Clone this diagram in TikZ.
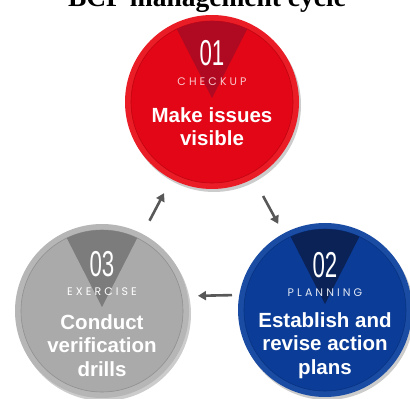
\documentclass[tikz,border=0pt]{standalone}
\usepackage{fontspec}
\setmainfont{Liberation Serif}
\newfontfamily\labelfont{Liberation Sans}
\newfontfamily\numfont[FakeStretch=0.62]{Liberation Sans}
\newfontfamily\phasefont[LetterSpace=28]{Poppins}
\usepackage{tikz}
\usetikzlibrary{arrows.meta,shadows,positioning}
\definecolor{redmain}{RGB}{226,6,22}
\definecolor{redrim}{RGB}{234,28,38}
\definecolor{reddark}{RGB}{176,10,34}
\definecolor{bluemain}{RGB}{10,60,152}
\definecolor{bluerim}{RGB}{26,76,164}
\definecolor{bluedark}{RGB}{10,34,86}
\definecolor{graymain}{RGB}{170,170,170}
\definecolor{grayrim}{RGB}{182,182,182}
\definecolor{graydark}{RGB}{124,124,124}
\definecolor{arrowgray}{RGB}{88,88,88}
\tikzstyle{disc} = [circle, minimum size=174pt, inner sep=0pt, outer sep=0pt, drop shadow={shadow xshift=2pt, shadow yshift=-3pt, fill=black!20, opacity=1}]
\tikzstyle{arrow} = [line width=2.6pt, draw=arrowgray, -{Triangle[length=8pt,width=9pt]}]
\tikzstyle{bignum} = [text=white, inner sep=0pt, font=\numfont\fontsize{36}{36}\selectfont]
\tikzstyle{phase} = [inner sep=0pt, font=\phasefont\fontsize{11}{12}\selectfont]
\tikzstyle{caption} = [text=white, inner sep=0pt, align=center, anchor=north, font=\labelfont\bfseries\fontsize{20.5}{23.5}\selectfont]

\begin{document}
\begin{tikzpicture}[x=1pt, y=1pt]
        \useasboundingbox (0,0) rectangle (410,399);
        \clip (0,0) rectangle (410,399);

        \node (title) [anchor=base, font=\bfseries\fontsize{27.5}{30}\selectfont] at (207,392) {BCP management cycle};

        % the three discs
        \node (red) [disc, fill=redrim] at (212,297) {};
        \node (blue) [disc, fill=bluerim] at (325,89) {};
        \node (gray) [disc, fill=grayrim] at (102,88) {};

        \draw [fill=redmain, draw=redmain!85!black, line width=0.6pt] (red) circle (81pt);
        \draw [fill=bluemain, draw=bluemain!85!black, line width=0.6pt] (blue) circle (81pt);
        \draw [fill=graymain, draw=graymain!85!black, line width=0.6pt] (gray) circle (81pt);

        % wedges
        \begin{scope}
        \clip (red) circle (81pt);
        \fill [reddark] ([yshift=4pt]red.center) -- ++(-49,96) -- ++(98,0) -- cycle;
        \end{scope}
        \begin{scope}
        \clip (blue) circle (81pt);
        \fill [bluedark] ([yshift=6pt]blue.center) -- ++(-49,96) -- ++(98,0) -- cycle;
        \end{scope}
        \begin{scope}
        \clip (gray) circle (81pt);
        \fill [graydark] ([yshift=4pt]gray.center) -- ++(-49,96) -- ++(98,0) -- cycle;
        \end{scope}

        \node (n01) [bignum] at ([yshift=49pt]red.center) {01};
        \node (p01) [phase, text=redmain!22!white] at ([yshift=20pt]red.center) {CHECKUP};
        \node (t01) [caption] at ([yshift=-5pt]red.center) {Make issues\\visible};

        \node (n02) [bignum] at ([yshift=45pt]blue.center) {02};
        \node (p02) [phase, text=bluemain!12!white] at ([yshift=17pt]blue.center) {PLANNING};
        \node (t02) [caption] at ([yshift=-2pt]blue.center) {Establish and\\revise action\\plans};

        \node (n03) [bignum] at ([yshift=47pt]gray.center) {03};
        \node (p03) [phase, text=white] at ([yshift=19pt]gray.center) {EXERCISE};
        \node (t03) [caption] at ([yshift=-3pt]gray.center) {Conduct\\verification\\drills};

        \draw [arrow, shorten <=15pt, shorten >=16pt] (gray) -- (red);
        \draw [arrow, shorten <=20pt, shorten >=11pt] (red) -- (blue);
        \draw [arrow, shorten <=6pt, shorten >=9pt] ([yshift=15pt]blue.west) -- ([yshift=15pt]gray.east);
\end{tikzpicture}
\end{document}
